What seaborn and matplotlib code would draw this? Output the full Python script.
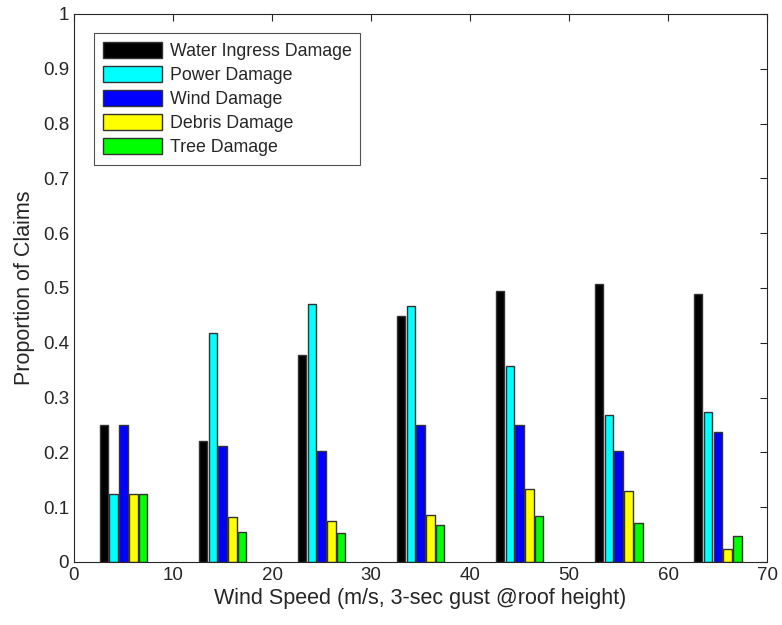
import pandas as pd
import matplotlib
matplotlib.use("Agg")
import matplotlib.pyplot as plt
import seaborn as sns

wind_speed = [5, 15, 25, 35, 45, 55, 65]
damage_types = ["Water Ingress Damage", "Power Damage", "Wind Damage",
                "Debris Damage", "Tree Damage"]
water = [0.250, 0.220, 0.377, 0.448, 0.495, 0.507, 0.489]
power = [0.125, 0.418, 0.470, 0.468, 0.357, 0.269, 0.273]
wind = [0.250, 0.212, 0.203, 0.250, 0.250, 0.203, 0.238]
debris = [0.125, 0.082, 0.074, 0.086, 0.133, 0.129, 0.023]
tree = [0.125, 0.055, 0.053, 0.067, 0.084, 0.071, 0.047]
colours = ["#000000", "#00ffff", "#0000ff", "#ffff00", "#00ff00"]

rows = []
for name, vals in zip(damage_types, [water, power, wind, debris, tree]):
    for ws, v in zip(wind_speed, vals):
        rows.append({"speed": ws, "damage": name, "prop": v})
df = pd.DataFrame(rows)

sns.set_style("white")
plt.rcParams["font.family"] = ["Liberation Sans", "DejaVu Sans"]

fig = plt.figure(figsize=(7.82, 6.25), dpi=100)
ax = fig.add_axes([0.0946, 0.1008, 0.8864, 0.8768])

sns.barplot(data=df, x="speed", y="prop", hue="damage", hue_order=damage_types,
            palette=colours, saturation=1, native_scale=True, width=0.5, gap=0.17,
            edgecolor="#333333", linewidth=1.0, ax=ax, errorbar=None)

ax.set_xlim(0, 70)
ax.set_ylim(0, 1)
ax.set_xticks(range(0, 71, 10))
ax.set_yticks([i / 10 for i in range(11)])
ax.set_yticklabels(["0"] + ["%.1f" % (i / 10) for i in range(1, 10)] + ["1"])
ax.tick_params(direction="in", length=5, top=True, right=True,
               labelsize=13.5, colors="#262626", width=0.8)
for s in ax.spines.values():
    s.set_visible(True)
    s.set_color("#262626")
    s.set_linewidth(0.8)
ax.set_xlabel("Wind Speed (m/s, 3-sec gust @roof height)", fontsize=15.5,
              color="#262626", labelpad=3)
ax.set_ylabel("Proportion of Claims", fontsize=15.5, color="#262626", labelpad=6)

leg = ax.legend(loc="upper left", bbox_to_anchor=(0.029, 0.965), borderaxespad=0,
                fontsize=12.8, handlelength=3.3, handleheight=1.0, labelspacing=0.33,
                handletextpad=0.45, borderpad=0.5, frameon=True, fancybox=False,
                edgecolor="#262626", title=None)
leg.get_frame().set_linewidth(0.8)

fig.savefig("out.png", dpi=100)
